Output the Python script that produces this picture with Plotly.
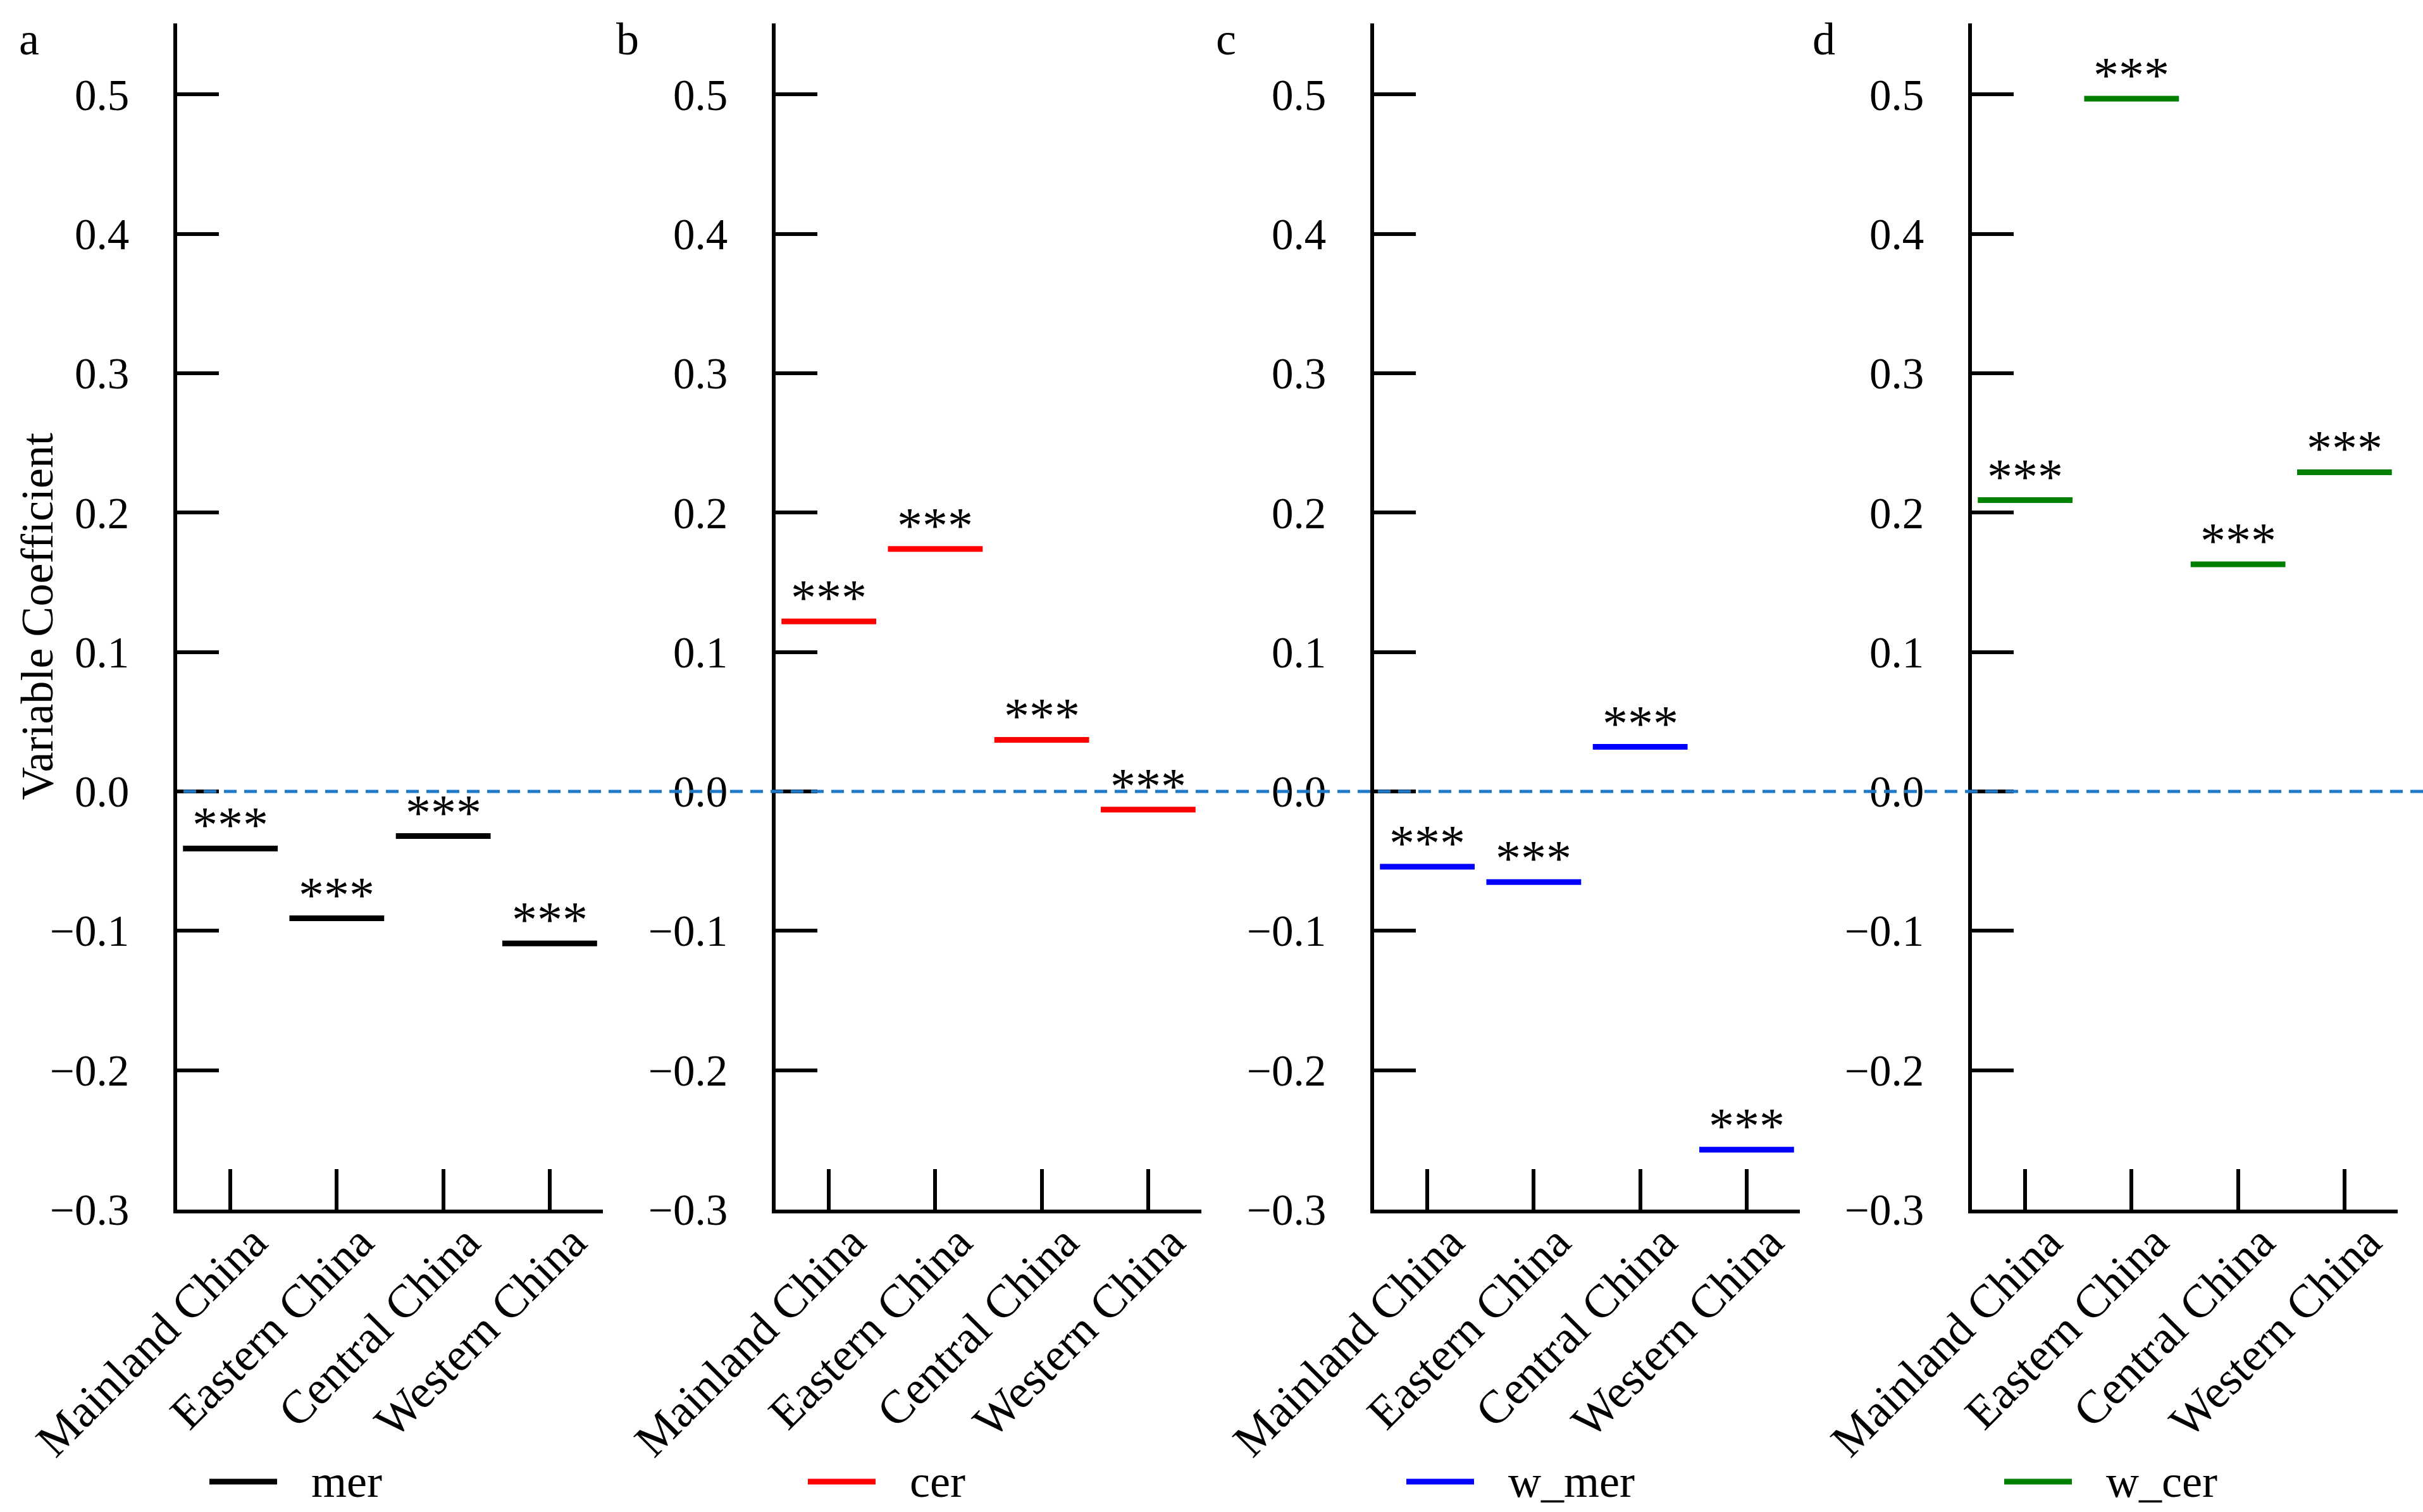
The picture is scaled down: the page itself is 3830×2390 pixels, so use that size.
import plotly.graph_objects as go

categories = ["Mainland China", "Eastern China", "Central China", "Western China"]
mer = [-0.041, -0.091, -0.032, -0.109]
cer = [0.122, 0.174, 0.037, -0.013]
w_mer = [-0.054, -0.065, 0.032, -0.257]
w_cer = [0.209, 0.497, 0.163, 0.229]
significance = ["***", "***", "***", "***"]
y_ticks = [-0.3, -0.2, -0.1, 0.0, 0.1, 0.2, 0.3, 0.4, 0.5]

series = [("mer", mer, "#000000", "a"),
          ("cer", cer, "#ff0000", "b"),
          ("w_mer", w_mer, "#0000ff", "c"),
          ("w_cer", w_cer, "#008000", "d")]

W, H = 3830, 2390
FONT = "Liberation Serif"
axis_px = [280, 1226, 2172, 3117]
panel_w = 673
y_bottom_px, y_top_px = 1912, 37
legend_y_px = 2342

fig = go.Figure()
layout = dict(width=W, height=H, autosize=False,
              margin=dict(l=0, r=0, t=0, b=0, pad=0, autoexpand=False),
              paper_bgcolor="white", plot_bgcolor="white",
              font=dict(family=FONT, color="black", size=66),
              showlegend=False)
annotations = []
shapes = []
x_idx = list(range(len(categories)))

for i, (name, vals, color, letter) in enumerate(series):
    sfx = "" if i == 0 else str(i + 1)
    xa, ya = "x" + sfx, "y" + sfx
    fig.add_trace(go.Scatter(
        x=x_idx, y=vals, mode="markers", name=name, xaxis=xa, yaxis=ya,
        marker=dict(symbol="line-ew", size=107, color=color,
                    line=dict(width=9, color=color)),
        hoverinfo="skip"))
    d0 = axis_px[i] / W
    d1 = (axis_px[i] + panel_w) / W
    layout["xaxis" + sfx] = dict(
        domain=[d0, d1], range=[-0.5, 3.5], anchor=ya, automargin=False,
        tickvals=x_idx, ticktext=categories, tickangle=-45,
        ticks="inside", ticklen=64, tickwidth=6, tickcolor="black",
        showline=True, linecolor="black", linewidth=6,
        showgrid=False, zeroline=False, ticklabelstandoff=-28,
        ticklabelshift=36,
        tickfont=dict(family=FONT, size=74))
    layout["yaxis" + sfx] = dict(
        domain=[(H - y_bottom_px) / H, (H - y_top_px) / H],
        range=[-0.3, 0.551], anchor=xa, automargin=False,
        tickvals=y_ticks, tickformat=".1f",
        ticks="inside", ticklen=66, tickwidth=6, tickcolor="black",
        showline=True, linecolor="black", linewidth=6,
        showgrid=False, zeroline=False, ticklabelstandoff=56,
        tickfont=dict(family=FONT, size=69))
    for xi, v, s in zip(x_idx, vals, significance):
        annotations.append(dict(x=xi, y=v, xref=xa, yref=ya, text=s,
                                showarrow=False, yanchor="bottom",
                                yshift=-9,
                                font=dict(family=FONT, size=80)))
    # panel letter
    annotations.append(dict(x=(axis_px[i] - 234) / W, y=(H - 62) / H,
                            xref="paper", yref="paper", text=letter,
                            showarrow=False, xanchor="center", yanchor="middle",
                            font=dict(family=FONT, size=72)))
    # legend entry
    shapes.append(dict(type="line", xref=xa + " domain", yref="paper",
                       x0=51 / panel_w, x1=158 / panel_w,
                       y0=(H - legend_y_px) / H, y1=(H - legend_y_px) / H,
                       line=dict(color=color, width=9)))
    annotations.append(dict(x=210 / panel_w, y=(H - legend_y_px) / H,
                            xref=xa + " domain", yref="paper", text=name,
                            showarrow=False, xanchor="left", yanchor="middle",
                            font=dict(family=FONT, size=72)))

# zero reference line across all panels
shapes.append(dict(type="line", xref="paper", yref="y",
                   x0=290 / W, x1=1.0, y0=0, y1=0, layer="above",
                   line=dict(color="#1f78c8", width=5, dash="20px,12px")))

annotations.append(dict(x=58 / W, y=(H - (y_bottom_px + y_top_px) / 2) / H,
                        xref="paper", yref="paper", text="Variable Coefficient",
                        textangle=-90, showarrow=False,
                        xanchor="center", yanchor="middle",
                        font=dict(family=FONT, size=72)))

layout["annotations"] = annotations
layout["shapes"] = shapes
fig.update_layout(**layout)
fig.write_html("out.html",
               config={"displayModeBar": False},
               post_script="document.body.style.margin='0';"
                           "document.body.style.overflow='hidden';")
